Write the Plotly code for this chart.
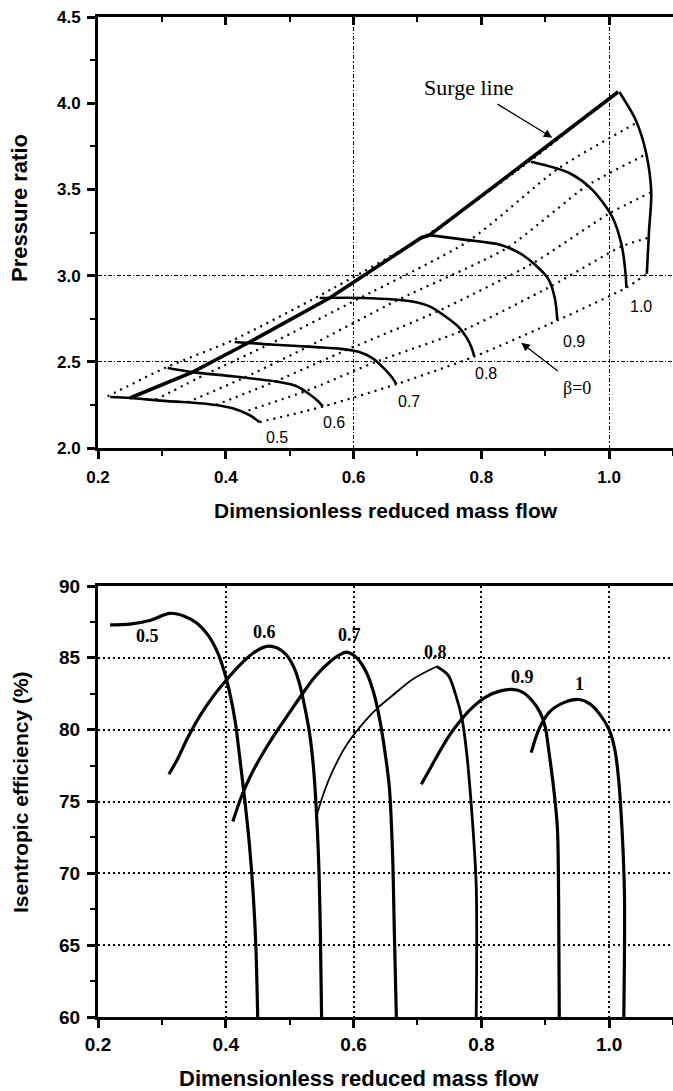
import plotly.graph_objects as go
import numpy as np

# ---------------- Top chart: pressure ratio map ----------------
surge_x = [0.25, 0.348, 0.4375, 0.5625, 0.706, 0.719, 0.867, 1.014]
surge_y = [2.29, 2.44, 2.615, 2.87, 3.22, 3.235, 3.65, 4.065]

pr_05_x = [0.219, 0.25, 0.308, 0.359, 0.39, 0.411, 0.4375, 0.453]
pr_05_y = [2.296, 2.29, 2.272, 2.26, 2.247, 2.23, 2.19, 2.15]
pr_06_x = [0.309, 0.348, 0.40, 0.4375, 0.48, 0.51, 0.53, 0.545, 0.552]
pr_06_y = [2.464, 2.44, 2.42, 2.405, 2.385, 2.36, 2.315, 2.27, 2.24]
pr_07_x = [0.414, 0.47, 0.542, 0.58, 0.609, 0.63, 0.648, 0.66, 0.667]
pr_07_y = [2.615, 2.60, 2.585, 2.575, 2.557, 2.52, 2.46, 2.41, 2.37]
pr_08_x = [0.547, 0.614, 0.692, 0.72, 0.745, 0.765, 0.777, 0.785, 0.789]
pr_08_y = [2.87, 2.87, 2.85, 2.82, 2.76, 2.70, 2.64, 2.58, 2.53]
pr_09_x = [0.719, 0.77, 0.828, 0.86, 0.885, 0.905, 0.915, 0.919]
pr_09_y = [3.235, 3.21, 3.18, 3.13, 3.06, 2.98, 2.87, 2.74]
pr_095_x = [0.878, 0.9375, 0.973, 1.005, 1.02, 1.026, 1.027]
pr_095_y = [3.66, 3.595, 3.50, 3.34, 3.17, 3.0, 2.93]
pr_10_x = [1.016, 1.042, 1.058, 1.066, 1.0625, 1.059]
pr_10_y = [4.065, 3.90, 3.71, 3.48, 3.26, 3.01]

# constant-beta (dotted) lines
beta_10_x = [0.215, 0.308, 0.411, 0.55, 0.719, 0.878, 1.014]
beta_10_y = [2.30, 2.47, 2.625, 2.89, 3.245, 3.67, 4.07]
beta_08_x = [0.29, 0.37, 0.47, 0.61, 0.78, 0.92, 1.04]
beta_08_y = [2.28, 2.43, 2.605, 2.87, 3.20, 3.62, 3.88]
beta_06_x = [0.34, 0.43, 0.53, 0.67, 0.84, 0.965, 1.056]
beta_06_y = [2.265, 2.41, 2.59, 2.86, 3.16, 3.52, 3.70]
beta_04_x = [0.385, 0.48, 0.59, 0.73, 0.88, 1.0, 1.064]
beta_04_y = [2.25, 2.39, 2.57, 2.79, 3.07, 3.36, 3.48]
beta_02_x = [0.425, 0.525, 0.635, 0.77, 0.91, 1.02, 1.062]
beta_02_y = [2.205, 2.33, 2.50, 2.68, 2.94, 3.17, 3.22]
beta_00_x = [0.453, 0.552, 0.667, 0.789, 0.919, 1.027, 1.059]
beta_00_y = [2.15, 2.24, 2.37, 2.53, 2.74, 2.93, 3.01]

top_lbl_text = ["0.5", "0.6", "0.7", "0.8", "0.9", "1.0"]
top_lbl_x = [0.48, 0.57, 0.6875, 0.808, 0.945, 1.05]
top_lbl_y = [2.06, 2.15, 2.27, 2.43, 2.615, 2.82]

top_grid_x = [0.6, 1.0]
top_grid_y = [2.5, 3.0]

# ---------------- Bottom chart: isentropic efficiency ----------------
eff_05_x = [0.219, 0.25, 0.281, 0.3125, 0.335, 0.355, 0.372, 0.387, 0.398, 0.407, 0.415, 0.422, 0.43, 0.437, 0.443, 0.447, 0.45]
eff_05_y = [87.3, 87.35, 87.6, 88.1, 87.9, 87.4, 86.6, 85.4, 84.0, 82.4, 80.5, 78.0, 75.0, 72.0, 68.5, 65.0, 60.0]
eff_06_x = [0.311, 0.325, 0.34, 0.36, 0.38, 0.40, 0.42, 0.442, 0.464, 0.48, 0.495, 0.507, 0.516, 0.524, 0.531, 0.537, 0.542, 0.546, 0.548, 0.55]
eff_06_y = [76.9, 78.0, 79.4, 81.0, 82.3, 83.4, 84.4, 85.3, 85.8, 85.7, 85.2, 84.3, 83.1, 81.5, 79.8, 77.5, 74.2, 70.0, 66.0, 60.0]
eff_07_x = [0.411, 0.425, 0.44, 0.46, 0.48, 0.50, 0.52, 0.54, 0.56, 0.578, 0.589, 0.605, 0.62, 0.632, 0.641, 0.649, 0.656, 0.661, 0.664, 0.667]
eff_07_y = [73.6, 75.4, 76.9, 78.5, 79.9, 81.2, 82.5, 83.7, 84.6, 85.2, 85.4, 85.0, 84.0, 82.5, 80.7, 78.5, 76.0, 71.4, 65.6, 60.0]
eff_08_x = [0.542, 0.555, 0.567, 0.59, 0.62, 0.64, 0.667, 0.692, 0.73, 0.748, 0.76, 0.77, 0.777, 0.786, 0.792, 0.792]
eff_08_y = [74.0, 75.8, 77.1, 79.0, 80.7, 81.6, 82.6, 83.5, 84.4, 83.8, 82.4, 80.7, 78.4, 73.7, 69.1, 60.0]
eff_09_x = [0.706, 0.72, 0.735, 0.75, 0.765, 0.785, 0.808, 0.83, 0.848, 0.865, 0.88, 0.892, 0.9, 0.906, 0.913, 0.919, 0.921, 0.922]
eff_09_y = [76.2, 77.3, 78.5, 79.6, 80.5, 81.5, 82.3, 82.7, 82.8, 82.6, 82.0, 81.2, 80.2, 78.4, 76.0, 73.2, 68.0, 60.0]
eff_10_x = [0.878, 0.89, 0.906, 0.93, 0.953, 0.97, 0.985, 1.0, 1.009, 1.015, 1.019, 1.022, 1.024, 1.024, 1.023]
eff_10_y = [78.4, 80.0, 81.2, 81.9, 82.1, 81.8, 81.1, 80.0, 78.6, 76.5, 74.0, 71.4, 68.6, 64.0, 60.0]

bot_lbl_text = ["0.5", "0.6", "0.7", "0.8", "0.9", "1"]
bot_lbl_x = [0.277, 0.461, 0.594, 0.728, 0.864, 0.953]
bot_lbl_y = [86.5, 86.8, 86.6, 85.4, 83.7, 83.2]

SANS = "Liberation Sans, Arial, sans-serif"
SERIF = "Liberation Serif, Times New Roman, serif"

fig = go.Figure()

# beta lines
for bx, by in [(beta_10_x, beta_10_y), (beta_08_x, beta_08_y), (beta_06_x, beta_06_y),
               (beta_04_x, beta_04_y), (beta_02_x, beta_02_y), (beta_00_x, beta_00_y)]:
    fig.add_trace(go.Scatter(x=bx, y=by, mode="lines", xaxis="x", yaxis="y",
                             line=dict(color="black", width=2.2, dash="2px,5px", shape="spline", smoothing=0.6),
                             showlegend=False, hoverinfo="skip"))

# speed lines
for sx, sy in [(pr_05_x, pr_05_y), (pr_06_x, pr_06_y), (pr_07_x, pr_07_y), (pr_08_x, pr_08_y),
               (pr_09_x, pr_09_y), (pr_095_x, pr_095_y), (pr_10_x, pr_10_y)]:
    fig.add_trace(go.Scatter(x=sx, y=sy, mode="lines", xaxis="x", yaxis="y",
                             line=dict(color="black", width=2.6, shape="spline", smoothing=0.8),
                             showlegend=False, hoverinfo="skip"))

# surge line
fig.add_trace(go.Scatter(x=surge_x, y=surge_y, mode="lines", xaxis="x", yaxis="y",
                         line=dict(color="black", width=3.6),
                         showlegend=False, hoverinfo="skip"))

# efficiency curves
for ex, ey in [(eff_05_x, eff_05_y), (eff_06_x, eff_06_y), (eff_07_x, eff_07_y),
               (eff_09_x, eff_09_y), (eff_10_x, eff_10_y)]:
    fig.add_trace(go.Scatter(x=ex, y=ey, mode="lines", xaxis="x2", yaxis="y2",
                             line=dict(color="black", width=3.2, shape="spline", smoothing=0.9),
                             showlegend=False, hoverinfo="skip"))
# 0.8 curve: thin rising branch, thicker falling branch
pk = int(np.argmax(eff_08_y))
fig.add_trace(go.Scatter(x=eff_08_x[:pk + 1], y=eff_08_y[:pk + 1], mode="lines", xaxis="x2", yaxis="y2",
                         line=dict(color="black", width=1.8, shape="spline", smoothing=0.9),
                         showlegend=False, hoverinfo="skip"))
fig.add_trace(go.Scatter(x=eff_08_x[pk:], y=eff_08_y[pk:], mode="lines", xaxis="x2", yaxis="y2",
                         line=dict(color="black", width=2.8, shape="spline", smoothing=0.9),
                         showlegend=False, hoverinfo="skip"))

# dummy traces to activate overlay axes
fig.add_trace(go.Scatter(x=[None], y=[None], xaxis="x3", yaxis="y", showlegend=False, hoverinfo="skip"))
fig.add_trace(go.Scatter(x=[None], y=[None], xaxis="x4", yaxis="y3", showlegend=False, hoverinfo="skip"))

annotations = []
for t, x, y in zip(top_lbl_text, top_lbl_x, top_lbl_y):
    annotations.append(dict(x=x, y=y, xref="x", yref="y", text=t, showarrow=False,
                            xanchor="center", yanchor="middle",
                            font=dict(family=SANS, size=16, color="black")))
annotations.append(dict(x=0.95, y=2.35, xref="x", yref="y", text="β=0", showarrow=False,
                        xanchor="center", yanchor="middle",
                        font=dict(family=SERIF, size=18, color="black")))
annotations.append(dict(x=0.8625, y=2.61, xref="x", yref="y", ax=0.922, ay=2.44,
                        axref="x", ayref="y", text="", showarrow=True,
                        arrowhead=2, arrowsize=1.3, arrowwidth=1.3, arrowcolor="black"))
annotations.append(dict(x=0.78, y=4.09, xref="x", yref="y", text="Surge line", showarrow=False,
                        xanchor="center", yanchor="middle",
                        font=dict(family=SERIF, size=22, color="black")))
annotations.append(dict(x=0.911, y=3.80, xref="x", yref="y", ax=0.823, ay=4.0,
                        axref="x", ayref="y", text="", showarrow=True,
                        arrowhead=2, arrowsize=1.3, arrowwidth=1.3, arrowcolor="black"))
for t, x, y in zip(bot_lbl_text, bot_lbl_x, bot_lbl_y):
    annotations.append(dict(x=x, y=y, xref="x2", yref="y2", text="<b>" + t + "</b>", showarrow=False,
                            xanchor="center", yanchor="middle",
                            font=dict(family=SERIF, size=18, color="black")))

# axis titles (paper coords: plot area x 98..673 px, y 17..1017 px)
def px2paper_x(px):
    return (px - 98) / 575.0

def px2paper_y(py):
    return (1017 - py) / 1000.0

annotations.append(dict(x=px2paper_x(386), y=px2paper_y(510), xref="paper", yref="paper",
                        xanchor="center", yanchor="middle",
                        text="Dimensionless reduced mass flow", showarrow=False,
                        font=dict(family=SANS, size=21, color="black", weight="bold")))
annotations.append(dict(x=px2paper_x(359), y=px2paper_y(1078), xref="paper", yref="paper",
                        xanchor="center", yanchor="middle",
                        text="Dimensionless reduced mass flow", showarrow=False,
                        font=dict(family=SANS, size=22, color="black", weight="bold")))
annotations.append(dict(x=px2paper_x(20), y=px2paper_y(208), xref="paper", yref="paper",
                        xanchor="center", yanchor="middle",
                        text="Pressure ratio", showarrow=False, textangle=-90,
                        font=dict(family=SANS, size=22, color="black", weight="bold")))
annotations.append(dict(x=px2paper_x(20), y=px2paper_y(792), xref="paper", yref="paper",
                        xanchor="center", yanchor="middle",
                        text="Isentropic efficiency (%)", showarrow=False, textangle=-90,
                        font=dict(family=SANS, size=21, color="black", weight="bold")))

tick_top = dict(family=SANS, size=17, color="black", weight="bold")
tick_bot = dict(family=SANS, size=19, color="black", weight="bold")

common_x = dict(range=[0.2, 1.1], dtick=0.2, tick0=0.2, tickformat=".1f", showgrid=False, zeroline=False,
                showline=True, linecolor="black", linewidth=3, ticks="outside", ticklen=8,
                tickwidth=2.5, tickcolor="black",
                minor=dict(dtick=0.1, ticks="outside", ticklen=5, tickwidth=2, tickcolor="black", showgrid=False))

top_dom = [(1017 - 448) / 1000.0, 1.0]
bot_dom = [0.0, (1017 - 586) / 1000.0]

fig.update_layout(
    width=673, height=1091,
    margin=dict(l=98, r=0, t=17, b=74),
    paper_bgcolor="white", plot_bgcolor="white",
    showlegend=False,
    annotations=annotations,
    xaxis=dict(common_x, anchor="y", domain=[0, 1], tickfont=tick_top, ticklabelstandoff=4),
    yaxis=dict(domain=top_dom, range=[2.0, 4.5], dtick=0.5, tick0=2.0, tickformat=".1f",
               showgrid=False, zeroline=False, showline=True, linecolor="black", linewidth=3,
               ticks="outside", ticklen=8, tickwidth=2.5, tickcolor="black", tickfont=tick_top,
               ticklabelstandoff=3, anchor="x",
               minor=dict(dtick=0.25, ticks="outside", ticklen=5, tickwidth=2, tickcolor="black", showgrid=False)),
    xaxis3=dict(overlaying="x", side="top", anchor="y", range=[0.2, 1.1], dtick=0.2, tick0=0.2,
                showticklabels=False, showgrid=False, zeroline=False, showline=True, linecolor="black",
                linewidth=3, ticks="inside", ticklen=8, tickwidth=2.5, tickcolor="black",
                minor=dict(dtick=0.1, ticks="inside", ticklen=5, tickwidth=2, tickcolor="black", showgrid=False)),
    xaxis4=dict(overlaying="x", anchor="y", range=[0.2, 1.1], tickmode="array", tickvals=top_grid_x,
                showticklabels=False, ticks="", showline=False, zeroline=False, showgrid=True,
                gridcolor="black", gridwidth=1.3, griddash="4px,2px,1.5px,2px"),
    yaxis3=dict(overlaying="y", anchor="x", range=[2.0, 4.5], tickmode="array", tickvals=top_grid_y,
                showticklabels=False, ticks="", showline=False, zeroline=False, showgrid=True,
                gridcolor="black", gridwidth=1.3, griddash="4px,2px,1.5px,2px"),
    xaxis2=dict(common_x, anchor="y2", domain=[0, 1], tickfont=tick_bot, mirror=True,
                showgrid=True, gridcolor="black", gridwidth=1.6, griddash="2px,3px", ticklabelstandoff=0),
    yaxis2=dict(domain=bot_dom, range=[60, 90], dtick=5, tick0=60, anchor="x2",
                showgrid=True, gridcolor="black", gridwidth=1.6, griddash="2px,3px",
                zeroline=False, showline=True, linecolor="black", linewidth=3,
                ticks="outside", ticklen=8, tickwidth=2.5, tickcolor="black", tickfont=tick_bot,
                ticklabelstandoff=3,
                minor=dict(dtick=2.5, ticks="outside", ticklen=5, tickwidth=2, tickcolor="black", showgrid=False)),
)

fig.write_html("out.html")
